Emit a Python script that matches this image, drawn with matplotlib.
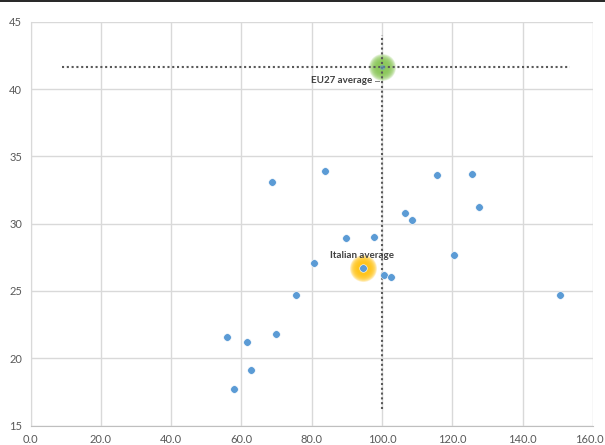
import matplotlib
matplotlib.use("Agg")
import matplotlib.pyplot as plt
from matplotlib.lines import Line2D
from matplotlib.transforms import ScaledTranslation

x_vals = [57.8, 62.7, 55.9, 61.6, 69.8, 75.6, 80.7, 89.7, 97.7, 68.8, 83.7,
          100.6, 102.6, 106.6, 108.5, 115.6, 125.5, 127.5, 120.5, 150.5]
y_vals = [17.7, 19.1, 21.6, 21.2, 21.8, 24.7, 27.1, 28.9, 29.0, 33.1, 33.9,
          26.2, 26.0, 30.8, 30.3, 33.6, 33.7, 31.2, 27.7, 24.7]

italy = (94.6, 26.7)
eu27 = (100.0, 41.6)
hline_x = [9.0, 153.5]
vline_y = [16.2, 44.0]

x_ticks = [0, 20, 40, 60, 80, 100, 120, 140, 160]
y_ticks = [15, 20, 25, 30, 35, 40, 45]

plt.rcParams['font.family'] = ['Lato', 'DejaVu Sans']

fig = plt.figure(figsize=(6.05, 4.45), dpi=100)
ax = fig.add_axes([0.0506, 0.0438, 0.9294, 0.9074])
ax.set_xlim(0, 160)
ax.set_ylim(15, 45)
ax.set_xticks(x_ticks)
ax.set_yticks(y_ticks)
ax.set_xticklabels([f"{v:.1f}" for v in x_ticks])
ax.set_yticklabels([str(v) for v in y_ticks])
ax.grid(True, color="#d9d9d9", linewidth=1.0)
ax.set_axisbelow(True)
for s in ["top", "right"]:
    ax.spines[s].set_visible(False)
ax.spines["left"].set_color("#d9d9d9")
ax.spines["bottom"].set_color("#bfbfbf")
ax.tick_params(length=0, colors="#595959", labelsize=8, pad=6)

# keep the last x tick label inside the canvas
last = ax.get_xticklabels()[-1]
last.set_transform(last.get_transform() + ScaledTranslation(-4 / 100, 0, fig.dpi_scale_trans))

# glows
n = 12
for i in range(n):
    s = 380 - i * 27
    ax.scatter([italy[0]], [italy[1]], s=s, color="#ffc000", alpha=0.16, linewidths=0, zorder=2)
    ax.scatter([eu27[0]], [eu27[1]], s=s, color="#7cc243", alpha=0.14, linewidths=0, zorder=2)

# average lines
ax.plot(hline_x, [eu27[1], eu27[1]], color="#595959", linestyle=(0, (1, 1.3)), linewidth=1.5, zorder=3)
ax.plot([eu27[0], eu27[0]], vline_y, color="#595959", linestyle=(0, (1, 1.3)), linewidth=1.5, zorder=3)

ax.scatter(x_vals, y_vals, s=30, color="#5b9bd5", edgecolors="white", linewidths=0.4, zorder=4)
ax.scatter([italy[0]], [italy[1]], s=30, color="#5b9bd5", edgecolors="white", linewidths=0.4, zorder=4)
ax.scatter([eu27[0]], [eu27[1]], s=14, color="#5b9bd5", alpha=0.5, linewidths=0, zorder=4)

ax.text(88.4, 40.6, "EU27 average", fontsize=7, color="#404040", fontweight="bold",
        ha="center", va="center", zorder=5)
ax.plot([98.0, 99.2], [40.6, 40.6], color="#808080", linewidth=0.7, zorder=5)
ax.text(94.4, 27.6, "Italian average", fontsize=7, color="#404040", fontweight="bold",
        ha="center", va="center", zorder=5)

fig.add_artist(Line2D([0, 1], [1 - 0.6 / 445, 1 - 0.6 / 445], transform=fig.transFigure,
                      color="black", linewidth=1.2))

fig.savefig("out.png", dpi=100)
